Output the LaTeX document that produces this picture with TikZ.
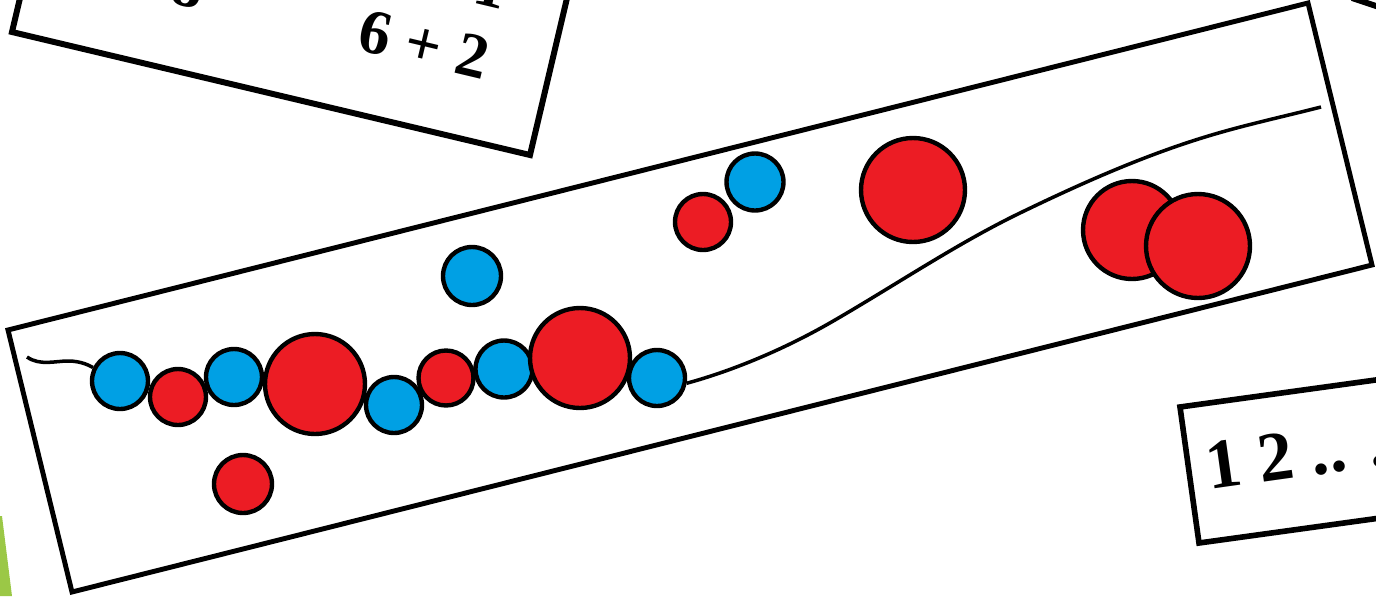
\documentclass[tikz,border=0pt]{standalone}
\usepackage{fontspec}
\setmainfont{Liberation Serif}

\definecolor{beadred}{RGB}{236,28,36}
\definecolor{beadblue}{RGB}{0,160,228}
\definecolor{slidegreen}{RGB}{155,200,70}

\begin{document}
\begin{tikzpicture}[x=0.02cm, y=-0.02cm]
  \tikzset{
    card/.style={
      draw=black,
      line width=2.8pt},
    cardtext/.style={
      font=\fontsize{36}{42}\selectfont\bfseries,
      inner sep=0pt},
    string/.style={
      draw=black,
      line width=2pt},
    bead/.style={
      circle,
      draw=black,
      line width=2.5pt,
      inner sep=0pt,
      minimum size=1.12cm},
    rbead/.style={
      bead,
      fill=beadred},
    bbead/.style={
      bead,
      fill=beadblue},
    bigbead/.style={
      minimum size=2cm}}

  \path[use as bounding box, fill=white] (0,0) rectangle (1376,596);
  \clip (0,0) rectangle (1376,596);

  % cards
  \draw[card, line width=3.4pt] (12,32) -- (530,155) -- (576,-40) -- (58,-163) -- cycle;
  \node[cardtext, rotate=-13.4] (sum) at (424,45) {6 + 2};
  \node[cardtext, rotate=-13.4, anchor=base] (topa) at (184,6) {8};
  \node[cardtext, rotate=-13.4, anchor=base] (topb) at (487,6) {1};
  \draw[card] (8,330) -- (1308,3) -- (1372,265) -- (72,592) -- cycle;
  \draw[card, line width=3.2pt] (1180,407) -- (1477,366) -- (1496,502) -- (1199,543) -- cycle;
  \node[cardtext, font=\fontsize{40}{46}\selectfont\bfseries, rotate=8, anchor=base west] (seq) at (1209,490) {1 2 .. .};
  \draw[card, line width=3.4pt] (1352,-2) -- (1382,8);

  \fill[slidegreen] (0,516) -- (2,516) -- (12,596) -- (0,596) -- cycle;

  % the chain
  \node[bbead] (n1) at (120,381) {};
  \node[rbead] (n2) at (178,397) {};
  \node[bbead] (n3) at (234,377) {};
  \node[rbead, bigbead] (n4) at (315,384) {};
  \node[bbead] (n5) at (394,405) {};
  \node[rbead, minimum size=1.1cm] (n6) at (446,378) {};
  \node[bbead, minimum size=1.14cm] (n7) at (504,369) {};
  \node[rbead, bigbead] (n8) at (580,358) {};
  \node[bbead] (n9) at (657,378) {};

  % loose beads
  \node[rbead, minimum size=1.16cm] (f1) at (243,484) {};
  \node[bbead, minimum size=1.16cm] (f2) at (472,276) {};
  \node[rbead] (f3) at (703,222) {};
  \node[bbead, minimum size=1.14cm] (f4) at (755,182) {};
  \node[rbead, minimum size=2.08cm] (f5) at (913,190) {};
  \node[rbead, minimum size=1.96cm] (f6) at (1132,230) {};
  \node[rbead, minimum size=2.08cm] (f7) at (1198,246) {};

  % string
  \coordinate (sa) at (27,357);
  \coordinate (sb) at (1321,107);
  \draw[string] (sa) .. controls (40,366) and (55,361) .. (68,361)
    .. controls (82,361) and (90,366) .. (n1);
  \draw[string] (n9.-10) .. controls (735,370) and (787,348) .. (835,320)
    .. controls (897,284) and (958,243) .. (1020,213)
    .. controls (1082,183) and (1143,156) .. (1205,137)
    .. controls (1244,125) and (1282,117) .. (sb);

\end{tikzpicture}
\end{document}
